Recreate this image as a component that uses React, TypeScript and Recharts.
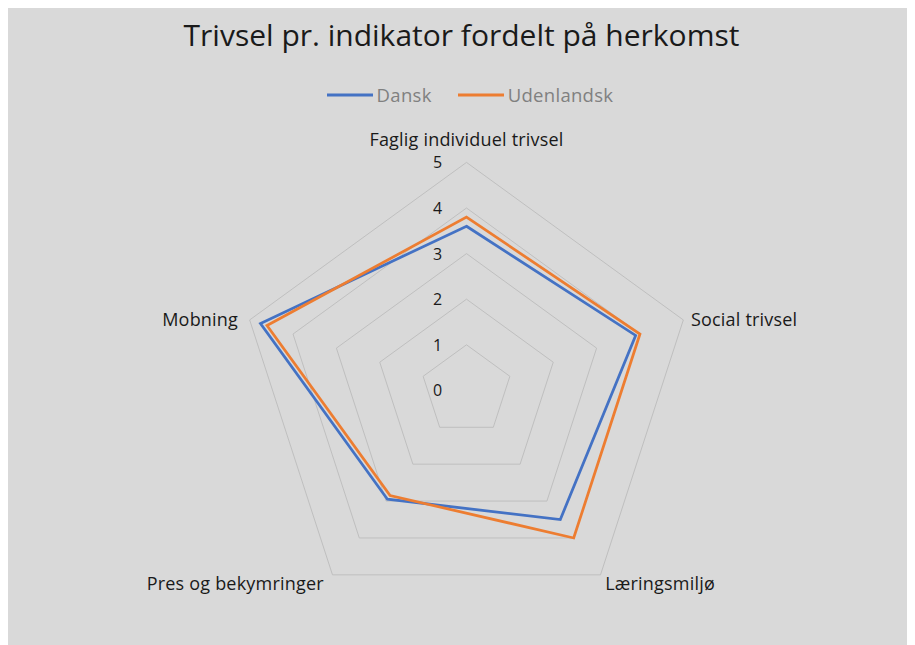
import React from "react";
import { RadarChart, Radar, PolarGrid, PolarAngleAxis, PolarRadiusAxis, Legend } from "recharts";

const categories = [
  "Faglig individuel trivsel",
  "Social trivsel",
  "Læringsmiljø",
  "Pres og bekymringer",
  "Mobning",
];
const dansk = [3.6, 3.9, 3.5, 2.95, 4.75];
const udenlandsk = [3.8, 4.0, 4.0, 2.85, 4.6];
const radiusTicks = [0, 1, 2, 3, 4, 5];

const seriesNames = ["Dansk", "Udenlandsk"];
const seriesColors = ["#4472C4", "#ED7D31"];

const data = categories.map((c, i) => ({
  category: c,
  Dansk: dansk[i],
  Udenlandsk: udenlandsk[i],
}));

const FONT = "'Open Sans', sans-serif";

const AngleTick = (props: any) => {
  const { x, y, payload, textAnchor, index } = props;
  const dy = index === 0 ? -15 : 2;
  const dx = textAnchor === "end" ? -4 : 0;
  return (
    <text
      x={x + dx}
      y={y + dy}
      textAnchor={textAnchor}
      dominantBaseline="central"
      fontFamily={FONT}
      fontSize={18}
      letterSpacing={0.2}
      fill="#1a1a1a"
    >
      {payload.value}
    </text>
  );
};

const RadiusTick = (props: any) => {
  const { x, y, payload } = props;
  return (
    <text
      x={x - 29}
      y={y}
      textAnchor="middle"
      dominantBaseline="central"
      fontFamily={FONT}
      fontSize={16}
      fill="#1a1a1a"
    >
      {payload.value}
    </text>
  );
};

const LegendContent = () => (
  <div style={{ display: "flex", justifyContent: "center", alignItems: "center", fontFamily: FONT, fontSize: 18.5, color: "#808080", paddingLeft: 17, letterSpacing: 0.3 }}>
    {seriesNames.map((n, i) => (
      <div key={n} style={{ display: "flex", alignItems: "center", marginLeft: i === 0 ? 0 : 26 }}>
        <svg width={46} height={6} style={{ marginRight: 4 }}>
          <line x1={0} y1={3} x2={46} y2={3} stroke={seriesColors[i]} strokeWidth={3} />
        </svg>
        <span>{n}</span>
      </div>
    ))}
  </div>
);

export default function App() {
  return (
    <div style={{ position: "relative", width: 907, height: 640, background: "#D9D9D9" }}>
      <div
        style={{
          position: "absolute",
          top: 7,
          left: 0,
          width: 907,
          textAlign: "center",
          fontFamily: FONT,
          fontSize: 30,
          color: "#1a1a1a",
          lineHeight: "40px",
        }}
      >
        Trivsel pr. indikator fordelt på herkomst
      </div>
      <RadarChart
        width={907}
        height={640}
        data={data}
        cx={458.5}
        cy={382.4}
        outerRadius={228}
        startAngle={90}
        endAngle={-270}
      >
        <PolarGrid radialLines={false} stroke="#BFBFBF" strokeWidth={1} />
        <PolarAngleAxis dataKey="category" tick={<AngleTick />} tickLine={false} axisLine={false} />
        <PolarRadiusAxis
          angle={90}
          domain={[0, 5]}
          ticks={radiusTicks as any}
          tickCount={6}
          axisLine={false}
          tickLine={false}
          tick={<RadiusTick />}
        />
        {seriesNames.map((n, i) => (
          <Radar
            key={n}
            name={n}
            dataKey={n}
            stroke={seriesColors[i]}
            strokeWidth={2.75}
            fill="none"
            fillOpacity={0}
            dot={false}
            isAnimationActive={false}
          />
        ))}
        <Legend
          content={<LegendContent />}
          wrapperStyle={{ position: "absolute", top: 74, left: 0, width: 907 }}
        />
      </RadarChart>
    </div>
  );
}
